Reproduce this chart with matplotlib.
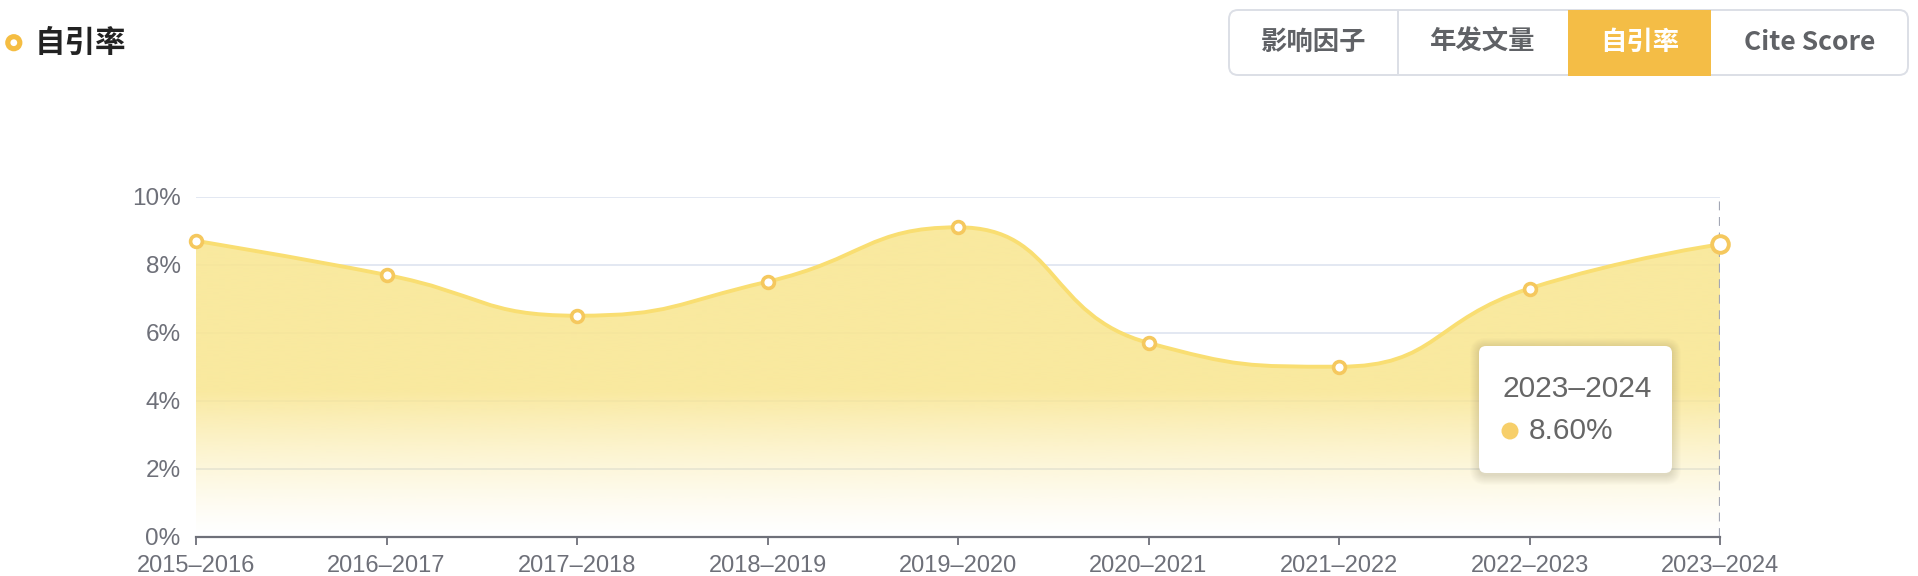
import numpy as np
import matplotlib
matplotlib.use("Agg")
import matplotlib.pyplot as plt
from matplotlib.path import Path
from matplotlib.patches import PathPatch, FancyBboxPatch, Circle, Rectangle
from matplotlib.transforms import IdentityTransform

# dati
YEARS = ["2015–2016", "2016–2017", "2017–2018", "2018–2019", "2019–2020",
         "2020–2021", "2021–2022", "2022–2023", "2023–2024"]
RATES = [8.7, 7.7, 6.5, 7.5, 9.1, 5.7, 5.0, 7.3, 8.6]
Y_TICKS = [0, 2, 4, 6, 8, 10]
TITLE = "自引率"
TABS = ["影响因子", "年发文量", "自引率", "Cite Score"]
ACTIVE_TAB = 2
HOVER = 8  # punto evidenziato nel tooltip

W, H = 1918, 576
LINE_COLOR = "#f9de72"
MARK_COLOR = "#f5c85e"
FILL_RGB = (249 / 255, 230 / 255, 146 / 255)
AXIS_COLOR = "#6e7079"
GRID_COLOR = "#e0e6f1"
CJK = ["Noto Sans CJK SC", "DejaVu Sans"]
LATIN = ["Liberation Sans", "DejaVu Sans"]
PIX = IdentityTransform()


def px(x, y):
    # pixel (origine in alto a sinistra) -> frazione figura
    return x / W, 1 - y / H


def dot(x, y, r, color, z):
    # cerchio in pixel, origine in alto a sinistra
    return Circle((x, H - y), radius=r, transform=PIX, facecolor=color,
                  edgecolor="none", zorder=z)


def smooth_bezier(pts, smooth=0.5):
    # curva smooth tipo echarts, punti in pixel
    n = len(pts)
    cp_in = [p.copy() for p in pts]
    cp_out = [p.copy() for p in pts]
    for i in range(1, n - 1):
        x, y = pts[i]
        px_, py_ = pts[i - 1]
        nx, ny = pts[i + 1]
        vx, vy = nx - px_, ny - py_
        len_prev = np.hypot(x - px_, y - py_)
        len_next = np.hypot(nx - x, ny - y)
        r = len_next / (len_next + len_prev)
        cx0 = x + vx * smooth * r
        cy0 = y + vy * smooth * r
        cx0 = max(min(cx0, max(nx, x)), min(nx, x))
        cy0 = max(min(cy0, max(ny, y)), min(ny, y))
        vx, vy = cx0 - x, cy0 - y
        cx1 = x - vx * len_prev / len_next
        cy1 = y - vy * len_prev / len_next
        cx1 = max(min(cx1, max(px_, x)), min(px_, x))
        cy1 = max(min(cy1, max(py_, y)), min(py_, y))
        vx, vy = x - cx1, y - cy1
        cx0 = x + vx * len_next / len_prev
        cy0 = y + vy * len_next / len_prev
        cp_in[i] = np.array([cx1, cy1])
        cp_out[i] = np.array([cx0, cy0])
    verts = [pts[0]]
    codes = [Path.MOVETO]
    for i in range(n - 1):
        verts += [cp_out[i], cp_in[i + 1], pts[i + 1]]
        codes += [Path.CURVE4] * 3
    return np.array(verts), codes


fig = plt.figure(figsize=(W / 100, H / 100), dpi=100)
ax = fig.add_axes([196 / W, 1 - 536.7 / H, 1524 / W, 340 / H])
x = np.arange(len(YEARS))
ax.set_xlim(x[0], x[-1])
ax.set_ylim(0, 10)

# griglia
for t in Y_TICKS[1:]:
    ax.axhline(t, color=GRID_COLOR, linewidth=1.3, zorder=1)

# curva smooth
pts = ax.transData.transform(np.column_stack([x, RATES]))
verts_px, codes = smooth_bezier(pts)
verts = ax.transData.inverted().transform(verts_px)
curve = Path(verts, codes)

# area con gradiente
area_verts = np.vstack([verts, [[x[-1], 0], [x[0], 0], [x[0], 0]]])
area_codes = codes + [Path.LINETO, Path.LINETO, Path.CLOSEPOLY]
area = PathPatch(Path(area_verts, area_codes), facecolor="none", edgecolor="none")
ax.add_patch(area)
top = max(RATES)
yy = np.linspace(top, 0, 300)
alpha = np.clip(yy / 4.3, 0, 1) ** 1.3 * 0.88
grad = np.zeros((300, 1, 4))
grad[:, 0, :3] = FILL_RGB
grad[:, 0, 3] = alpha
img = ax.imshow(grad, extent=[x[0], x[-1], 0, top], aspect="auto",
                origin="upper", zorder=2, interpolation="bilinear")
img.set_clip_path(area)

ax.add_patch(PathPatch(curve, facecolor="none", edgecolor=LINE_COLOR,
                       linewidth=2.8, zorder=3, capstyle="round"))

# linea verticale hover
ax.axvline(x[HOVER], color="#a3a7b5", linewidth=1.6, linestyle=(0, (4, 3)), zorder=3)

# punti
sizes = [8.5] * len(x)
sizes[HOVER] = 12
for xi, yi, s in zip(x, RATES, sizes):
    ax.plot(xi, yi, "o", markersize=s, markerfacecolor="white",
            markeredgecolor=MARK_COLOR, markeredgewidth=2.6 if s < 10 else 2.8,
            zorder=4, clip_on=False)

# assi
for s in ["top", "right", "left"]:
    ax.spines[s].set_visible(False)
ax.spines["bottom"].set_color(AXIS_COLOR)
ax.spines["bottom"].set_linewidth(1.6)
ax.spines["bottom"].set_zorder(5)
ax.set_xticks(x)
ax.set_xticklabels(YEARS, fontsize=17, color=AXIS_COLOR, family=LATIN)
ax.tick_params(axis="x", length=6, width=1.3, color=AXIS_COLOR, pad=7.5)
ax.set_yticks(Y_TICKS)
ax.set_yticklabels([f"{t}%" for t in Y_TICKS], fontsize=17.5,
                   color=AXIS_COLOR, family=LATIN)
ax.tick_params(axis="y", length=0, pad=11)
ax.set_facecolor("none")

# titolo con icona
fig.patches.append(dot(13.8, 42.7, 8.6, "#f5bd42", 2))
fig.patches.append(dot(13.8, 42.7, 3.4, "white", 3))
fig.text(*px(35, 42.7), TITLE, fontsize=22, fontweight="bold", color="#222222",
         family=CJK, va="center", ha="left")

# pulsanti
bounds = [1229, 1398, 1568, 1711, 1908]
btop, bbot = 10, 75
fig.patches.append(FancyBboxPatch((bounds[0], H - bbot), bounds[-1] - bounds[0], bbot - btop,
                                  boxstyle="round,pad=0,rounding_size=9",
                                  transform=PIX, facecolor="white",
                                  edgecolor="#dcdfe6", linewidth=1.4))
a0, a1 = bounds[ACTIVE_TAB], bounds[ACTIVE_TAB + 1]
fig.patches.append(Rectangle((a0, H - bbot - 0.5), a1 - a0, bbot - btop + 1,
                             transform=PIX, facecolor="#f4bd46",
                             edgecolor="none", zorder=2))
for b in bounds[1:ACTIVE_TAB]:
    fig.add_artist(plt.Line2D([b / W, b / W], [1 - (btop + 0.5) / H, 1 - (bbot - 0.5) / H],
                              color="#dcdfe6", linewidth=1.4))
for i, label in enumerate(TABS):
    cx = (bounds[i] + bounds[i + 1]) / 2
    active = i == ACTIVE_TAB
    fig.text(*px(cx, 42.5), label, fontsize=19, fontweight="bold",
             color="white" if active else "#606266", family=CJK,
             ha="center", va="center", zorder=4)

# tooltip
tx0, ty0, tw, th = 1479, 346, 193, 127
for k in range(10, 0, -1):
    fig.patches.append(FancyBboxPatch((tx0 - k + 1, H - ty0 - th - k - 2), tw + 2 * k - 2,
                                      th + 2 * k,
                                      boxstyle=f"round,pad=0,rounding_size={6 + k}",
                                      transform=PIX, facecolor="black",
                                      edgecolor="none", alpha=0.01, zorder=6))
fig.patches.append(FancyBboxPatch((tx0, H - ty0 - th), tw, th,
                                  boxstyle="round,pad=0,rounding_size=7",
                                  transform=PIX, facecolor="white",
                                  edgecolor="none", zorder=7))
fig.text(*px(1502, 389), YEARS[HOVER], fontsize=21.5, color="#666666",
         family=LATIN, ha="left", va="center", zorder=8)
fig.patches.append(dot(1510, 431, 8.5, "#f7cf6a", 8))
fig.text(*px(1529, 431), f"{RATES[HOVER]:.2f}%", fontsize=21.5, color="#666666",
         family=LATIN, ha="left", va="center", zorder=8)

fig.savefig("out.png", dpi=100)
